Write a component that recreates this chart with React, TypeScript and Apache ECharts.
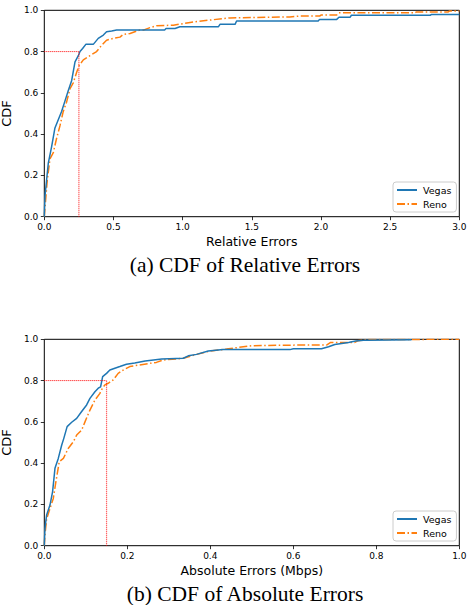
import React, { useEffect, useRef } from "react";
import * as echarts from "echarts";

// ---- data ----
const relVegas: number[][] = [
  [0, 0], [0.005, 0.1], [0.017, 0.18], [0.029, 0.26], [0.053, 0.34], [0.077, 0.43], [0.101, 0.47],
  [0.125, 0.51], [0.149, 0.56], [0.173, 0.61], [0.198, 0.66], [0.222, 0.75], [0.246, 0.78], [0.258, 0.8],
  [0.277, 0.815], [0.3, 0.835], [0.354, 0.835], [0.39, 0.864], [0.427, 0.88], [0.45, 0.896], [0.487, 0.9],
  [0.523, 0.905], [0.87, 0.905], [0.88, 0.912], [0.945, 0.912], [0.98, 0.92], [1.258, 0.92], [1.27, 0.932],
  [1.379, 0.932], [1.39, 0.948], [1.98, 0.948], [1.99, 0.956], [2.114, 0.956], [2.13, 0.966], [2.21, 0.966],
  [2.22, 0.976], [2.79, 0.976], [2.8, 0.98], [3.0, 0.98],
];
const relReno: number[][] = [
  [0, 0], [0.012, 0.1], [0.022, 0.18], [0.041, 0.28], [0.065, 0.31], [0.089, 0.38], [0.113, 0.44],
  [0.137, 0.51], [0.161, 0.555], [0.186, 0.62], [0.21, 0.65], [0.234, 0.7], [0.253, 0.734], [0.282, 0.76],
  [0.33, 0.78], [0.378, 0.8], [0.414, 0.83], [0.45, 0.855], [0.499, 0.864], [0.547, 0.87], [0.571, 0.883],
  [0.62, 0.888], [0.69, 0.904], [0.716, 0.904], [0.764, 0.916], [0.812, 0.925], [0.933, 0.928],
  [1.054, 0.941], [1.186, 0.952], [1.342, 0.963], [1.775, 0.968], [1.85, 0.972], [1.99, 0.972],
  [2.0, 0.977], [2.114, 0.977], [2.13, 0.988], [2.68, 0.988], [2.69, 0.992], [2.92, 0.992], [2.93, 0.997],
  [3.0, 0.997],
];
const absVegas: number[][] = [
  [0, 0], [0.0016, 0.084], [0.0056, 0.149], [0.0137, 0.197], [0.02, 0.262], [0.0257, 0.375],
  [0.0337, 0.423], [0.042, 0.488], [0.047, 0.52], [0.055, 0.577], [0.066, 0.598], [0.078, 0.617],
  [0.09, 0.65], [0.102, 0.682], [0.11, 0.714], [0.122, 0.746], [0.13, 0.763], [0.1357, 0.77],
  [0.1406, 0.819], [0.15, 0.835], [0.158, 0.851], [0.17, 0.86], [0.182, 0.868], [0.198, 0.879],
  [0.218, 0.885], [0.243, 0.895], [0.283, 0.904], [0.335, 0.908], [0.347, 0.92], [0.367, 0.927],
  [0.395, 0.943], [0.431, 0.95], [0.592, 0.95], [0.6, 0.954], [0.668, 0.954], [0.685, 0.964],
  [0.7, 0.975], [0.733, 0.985], [0.75, 0.992], [0.776, 0.996], [0.885, 0.998],
];
const absReno: number[][] = [
  [0, 0], [0.0016, 0.052], [0.0056, 0.13], [0.0137, 0.18], [0.0217, 0.229], [0.028, 0.31],
  [0.036, 0.407], [0.046, 0.423], [0.058, 0.472], [0.07, 0.504], [0.078, 0.536], [0.09, 0.56],
  [0.098, 0.6], [0.11, 0.657], [0.122, 0.706], [0.134, 0.738], [0.14, 0.763], [0.146, 0.779],
  [0.154, 0.787], [0.166, 0.803], [0.178, 0.835], [0.19, 0.851], [0.206, 0.868], [0.23, 0.876],
  [0.27, 0.888], [0.287, 0.9], [0.335, 0.908], [0.367, 0.927], [0.399, 0.943], [0.439, 0.953],
  [0.5, 0.969], [0.611, 0.972], [0.68, 0.972], [0.69, 0.985], [0.748, 0.985], [0.755, 0.993],
  [0.78, 0.999], [1.0, 1.0],
];
const relThreshold = { x: 0.25, y: 0.8 };
const absThreshold = { x: 0.15, y: 0.8 };
const seriesNames = ["Vegas", "Reno"];
const xNames = ["Relative Errors", "Absolute Errors (Mbps)"];
const captions = ["(a) CDF of Relative Errors", "(b) CDF of Absolute Errors"];

const BLUE = "#1f77b4";
const ORANGE = "#ff7f0e";
const SANS = "DejaVu Sans";

export default function App() {
  const ref = useRef<HTMLDivElement>(null);
  useEffect(() => {
    if (!ref.current) return;
    const chart = echarts.init(ref.current, null, { renderer: "svg" });
    const grids = [
      { left: 44.3, top: 10.3, width: 415, height: 206.4 },
      { left: 44.3, top: 339.3, width: 415, height: 206.4 },
    ].map((g) => ({
      ...g,
      show: true,
      borderColor: "#000",
      borderWidth: 1,
      backgroundColor: "transparent",
      containLabel: false,
      outerBoundsMode: "none",
    }));

    const mkX = (i: number, max: number, interval: number) => ({
      type: "value",
      gridIndex: i,
      min: 0,
      max,
      interval,
      name: xNames[i],
      nameLocation: "middle",
      nameGap: 18,
      nameTextStyle: { fontFamily: SANS, fontSize: 12.5, color: "#000" },
      axisLine: { show: false },
      axisTick: { show: true, length: 3.5, lineStyle: { color: "#000", width: 0.8 } },
      axisLabel: { margin: 6, fontFamily: SANS, fontSize: 9, color: "#000", formatter: (v: number) => v.toFixed(1) },
      splitLine: { show: false },
    });
    const mkY = (i: number) => ({
      type: "value",
      gridIndex: i,
      min: 0,
      max: 1,
      interval: 0.2,
      name: "CDF",
      nameLocation: "middle",
      nameGap: 25,
      nameTextStyle: { fontFamily: SANS, fontSize: 13, color: "#000" },
      axisLine: { show: false },
      axisTick: { show: true, length: 3.5, lineStyle: { color: "#000", width: 0.8 } },
      axisLabel: { margin: 6, fontFamily: SANS, fontSize: 9, color: "#000", formatter: (v: number) => v.toFixed(1) },
      splitLine: { show: false },
    });

    const curve = (name: string, data: number[][], i: number, dashed: boolean) => ({
      type: "line",
      name,
      xAxisIndex: i,
      yAxisIndex: i,
      data,
      symbol: "none",
      clip: true,
      z: dashed ? 3 : 4,
      lineStyle: dashed
        ? { color: ORANGE, width: 1.5, type: [8, 2.5, 1.5, 2.5] }
        : { color: BLUE, width: 1.5 },
      itemStyle: { color: dashed ? ORANGE : BLUE },
    });
    const guide = (t: { x: number; y: number }, i: number) => [
      {
        type: "line",
        xAxisIndex: i,
        yAxisIndex: i,
        data: [[0, t.y], [t.x, t.y]],
        symbol: "none",
        silent: true,
        z: 5,
        lineStyle: { color: "#ff0000", width: 1, type: [1, 1] },
      },
      {
        type: "line",
        xAxisIndex: i,
        yAxisIndex: i,
        data: [[t.x, 0], [t.x, t.y]],
        symbol: "none",
        silent: true,
        z: 5,
        lineStyle: { color: "#ff0000", width: 1.2, type: [1, 1], opacity: 0.8 },
      },
    ];

    const legend = (top: number) => ({
      orient: "vertical",
      left: 393,
      top,
      data: seriesNames,
      itemWidth: 20,
      itemHeight: 10,
      itemGap: 4,
      padding: [3, 5, 3, 3],
      backgroundColor: "rgba(255,255,255,0.8)",
      borderColor: "#cccccc",
      borderWidth: 1,
      borderRadius: 3,
      selectedMode: false,
      itemStyle: { color: "rgba(0,0,0,0)", borderWidth: 0, borderColor: "rgba(0,0,0,0)" },
      textStyle: { fontFamily: SANS, fontSize: 9.5, color: "#000", padding: [0, 0, 0, 1] },
    });

    chart.setOption({
      animation: false,
      backgroundColor: "#fff",
      grid: grids,
      xAxis: [mkX(0, 3, 0.5), mkX(1, 1, 0.2)],
      yAxis: [mkY(0), mkY(1)],
      legend: [legend(182), legend(511)],
      series: [
        curve(seriesNames[0], relVegas, 0, false),
        curve(seriesNames[1], relReno, 0, true),
        ...guide(relThreshold, 0),
        curve(seriesNames[0], absVegas, 1, false),
        curve(seriesNames[1], absReno, 1, true),
        ...guide(absThreshold, 1),
      ],
      graphic: [
        {
          type: "text",
          x: 245,
          y: 254,
          style: { text: captions[0], align: "center", fontFamily: "Liberation Serif", fontSize: 21.5, fill: "#000" },
        },
        {
          type: "text",
          x: 245,
          y: 583,
          style: { text: captions[1], align: "center", fontFamily: "Liberation Serif", fontSize: 21.5, fill: "#000" },
        },
      ],
    });
    return () => chart.dispose();
  }, []);
  return (
    <div
      ref={ref}
      style={{ position: "absolute", left: 0, top: 0, width: 467, height: 605 }}
    />
  );
}
